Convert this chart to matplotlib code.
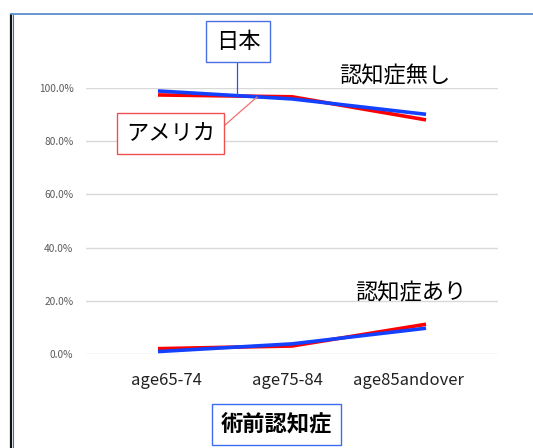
import matplotlib
matplotlib.use("Agg")
import matplotlib.pyplot as plt
from matplotlib.lines import Line2D
from matplotlib.transforms import ScaledTranslation
from matplotlib.ticker import PercentFormatter

plt.rcParams['font.family'] = ['Noto Sans CJK JP', 'DejaVu Sans']

# data
categories = ["age65-74", "age75-84", "age85andover"]
japan_no_dementia = [0.990, 0.960, 0.902]
usa_no_dementia   = [0.975, 0.968, 0.881]
japan_dementia    = [0.008, 0.037, 0.096]
usa_dementia      = [0.019, 0.029, 0.111]
yticks = [0.0, 0.2, 0.4, 0.6, 0.8, 1.0]

W, H = 533, 448
fig = plt.figure(figsize=(W / 100, H / 100), dpi=100)

def px(x, y):
    return (x / W, 1 - y / H)

# plot area: gridlines span x 86..498, 0% at y=353.7, 100% at y=88.3
ax = fig.add_axes([86 / W, 1 - 353.7 / H, 412 / W, 265.4 / H])
ax.set_xlim(-0.537, 2.537)
ax.set_ylim(0, 1)

blue, red = "#1440ff", "#ff0000"
x = range(len(categories))
ax.plot(x, usa_no_dementia, color=red, lw=2.6, clip_on=False, zorder=3, solid_capstyle='butt')
ax.plot(x, japan_no_dementia, color=blue, lw=2.6, clip_on=False, zorder=4, solid_capstyle='butt')
ax.plot(x, usa_dementia, color=red, lw=2.6, clip_on=False, zorder=3, solid_capstyle='butt')
ax.plot(x, japan_dementia, color=blue, lw=2.6, clip_on=False, zorder=4, solid_capstyle='butt')

ax.set_yticks(yticks)
ax.yaxis.set_major_formatter(PercentFormatter(1.0, decimals=1))
ax.set_xticks(list(x))
ax.set_xticklabels(categories, fontsize=12, color="#222222")
ax.tick_params(axis='x', length=0, pad=13)
ax.tick_params(axis='y', length=0, pad=9, labelsize=7.3, labelcolor="#595959")
ax.grid(axis='y', color="#d9d9d9", lw=1)
ax.set_axisbelow(True)
for s in ax.spines.values():
    s.set_visible(False)

# category labels in the original sit a little inside the line ends
for lab, dx in zip(ax.get_xticklabels(), [8, -5, -18]):
    lab.set_transform(lab.get_transform() + ScaledTranslation(dx / 100, 0, fig.dpi_scale_trans))

# frame of the original slide
fig.add_artist(Line2D([10.5 / W, 10.5 / W], [1 - 15 / H, 0], transform=fig.transFigure,
                      color="#111111", lw=1.6))
fig.add_artist(Line2D([12.5 / W, 12.5 / W], [1 - 15 / H, 0], transform=fig.transFigure,
                      color="#3a6fc0", lw=0.8))
fig.add_artist(Line2D([11 / W, 1], [1 - 14.5 / H, 1 - 14.5 / H], transform=fig.transFigure,
                      color="#4a86c8", lw=1.2))

# leader lines
fig.add_artist(Line2D(*zip(px(237, 62), px(237, 95)), transform=fig.transFigure,
                      color="#3050e0", lw=0.9))
fig.add_artist(Line2D(*zip(px(217, 132), px(257, 97)), transform=fig.transFigure,
                      color="#f07070", lw=0.9))

# labels
fig.text(*px(238, 41.5), "日本", fontsize=16, ha='center', va='center',
         bbox=dict(boxstyle='square,pad=0.42', fc='white', ec="#4a6fe3", lw=1))
fig.text(*px(170.5, 133.5), "アメリカ", fontsize=16, ha='center', va='center',
         bbox=dict(boxstyle='square,pad=0.42', fc='white', ec="#f05050", lw=1))
fig.text(*px(276.5, 424.5), "術前認知症", fontsize=16, fontweight='bold', ha='center', va='center',
         bbox=dict(boxstyle='square,pad=0.42', fc='white', ec="#3c6cf0", lw=1))
fig.text(*px(395, 76), "認知症無し", fontsize=16, ha='center', va='center')
fig.text(*px(411, 293), "認知症あり", fontsize=16, ha='center', va='center')

fig.savefig("out.png", dpi=100)
